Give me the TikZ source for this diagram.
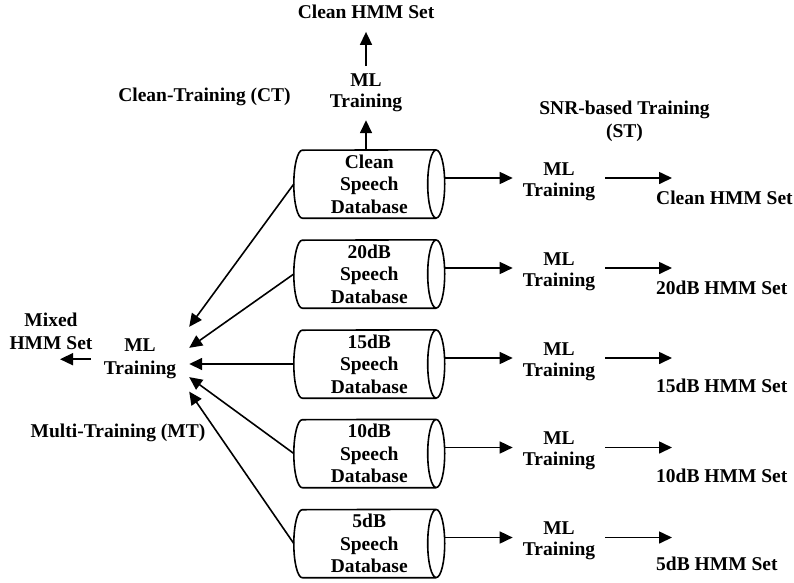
\documentclass[tikz,border=0pt]{standalone}
\usepackage{fontspec}
\setmainfont{Liberation Serif}
\usetikzlibrary{arrows.meta}

% horizontal database cylinder: #1 name, #2 centre y, #3 label
\newcommand\dbcyl[3]{%
  \node[dbbody] (#1) at (369.25,#2) {#3};
  \draw[dbline] ([xshift=8.5pt]#1.south west)
      arc[start angle=90, end angle=270, x radius=8.5, y radius=34]
      -- ([xshift=-8.5pt]#1.north east)
    ([xshift=8.5pt]#1.south west) -- ([xshift=-8.5pt]#1.south east)
    ([xshift=-8.5pt]#1.east) ellipse[x radius=8.5, y radius=34];
}

\begin{document}
\begin{tikzpicture}[x=1pt, y=1pt, yscale=-1,
  every node/.style={font=\fontsize{19.5}{23}\selectfont\bfseries, inner sep=0pt, align=center},
  mlbox/.style={font=\fontsize{19.5}{21}\selectfont\bfseries},
  dbbody/.style={minimum width=150.5pt, minimum height=68pt,
                 font=\fontsize{19.5}{22.5}\selectfont\bfseries},
  dbline/.style={line width=1.6pt},
  arr/.style={line width=1.6pt, -{Triangle[length=13pt, width=12pt]}}]

\useasboundingbox[fill=white] (0,0) rectangle (794,582);

% clean-training branch
\node[anchor=base, inner ysep=13pt] (outtop) at (366,18.5) {Clean HMM Set};
\node[mlbox, minimum height=53.6pt] (mltop) at (366,93.2) {ML\\Training};
\node[anchor=base] (ct) at (204.5,101) {Clean-Training (CT)};
\node (st) at (624.5,121.7) {SNR-based Training\\(ST)};

% speech databases
\dbcyl{db0}{184}{Clean\\Speech\\Database}
\dbcyl{db20}{274}{20dB\\Speech\\Database}
\dbcyl{db15}{364}{15dB\\Speech\\Database}
\dbcyl{db10}{453.5}{10dB\\Speech\\Database}
\dbcyl{db5}{543.5}{5dB\\Speech\\Database}

\draw[arr] (mltop.south |- db0.north) -- (mltop.south);
\draw[arr] (mltop.north) -- (outtop.south);

% SNR-based training chains
\foreach \id/\cy/\lab/\dy in {0/184/Clean/20, 20/274/20dB/20, 15/364/15dB/28,
                              10/453.5/10dB/28.5, 5/543.5/5dB/27} {
  \node[mlbox, inner xsep=10pt] (ml\id) at (559,\cy-2.3) {ML\\Training};
  \node[anchor=base west] (set\id) at (656,\cy+\dy) {\lab\ HMM Set};
  \coordinate (tip\id) at (672,\cy-6);
  \draw[arr] (db\id.east |- tip\id) -- (ml\id.west |- tip\id);
  \draw[arr] (ml\id.east |- tip\id) -- (tip\id);
}

% multi-training branch
\node[minimum width=98pt, minimum height=64.4pt] (mlmix) at (140,359.2) {ML\\Training};
\node (mixed) at (51,330.9) {Mixed\\HMM Set};
\node[anchor=base] (mt) at (118,437) {Multi-Training (MT)};
\coordinate (mixtip) at (60,359.2);

\draw[arr] (db0.west) -- (mlmix.north east);
\draw[arr] (db20.west) -- (mlmix.13);
\draw[arr] (db15.west) -- (db15.west -| mlmix.east);
\draw[arr] (db10.west) -- (mlmix.-20);
\draw[arr] (db5.west) -- (mlmix.south east);
\draw[arr] (mlmix.west) -- (mixtip);
\end{tikzpicture}
\end{document}
